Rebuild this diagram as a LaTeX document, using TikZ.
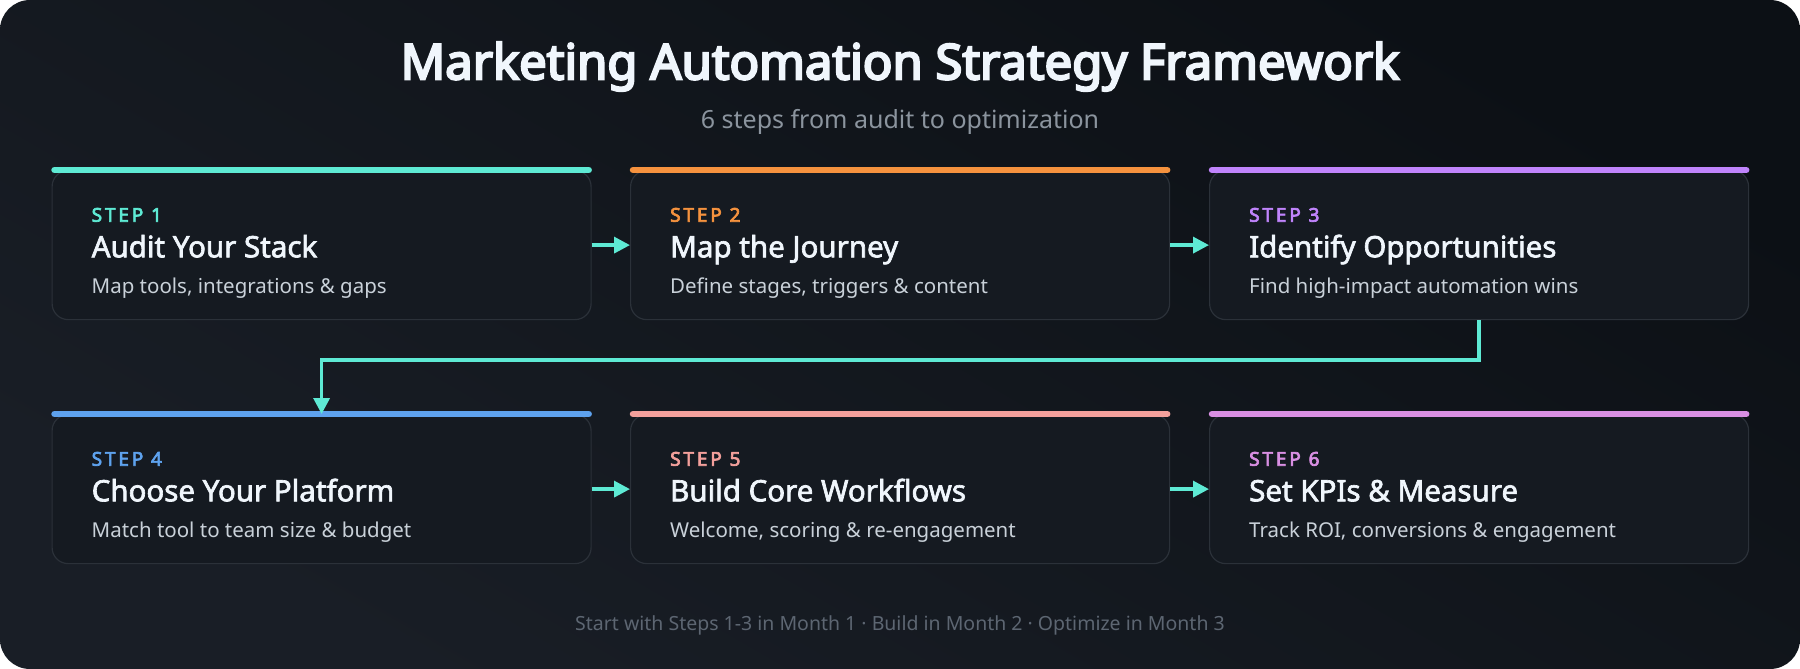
\documentclass[tikz,border=0pt]{standalone}
\usepackage{fontspec}
\setmainfont{Noto Sans}[AutoFakeBold=4.5]
\newfontfamily\semib{Noto Sans}[FakeBold=2.2]
\newfontfamily\labf{Noto Sans}[LetterSpace=15, FakeBold=3.6]
\usetikzlibrary{arrows.meta}
\definecolor{bgA}{HTML}{0C1015}
\definecolor{bgB}{HTML}{191E26}
\definecolor{cardbg}{HTML}{151A21}
\definecolor{cardline}{HTML}{2B3139}
\definecolor{titlec}{HTML}{F0F6FC}
\definecolor{subc}{HTML}{8B949E}
\definecolor{descc}{HTML}{C9D1D9}
\definecolor{footc}{HTML}{5D6672}
\definecolor{cteal}{HTML}{5EEAD4}
\definecolor{corange}{HTML}{F5923E}
\definecolor{cpurple}{HTML}{C084FC}
\definecolor{cblue}{HTML}{5EA2EE}
\definecolor{csalmon}{HTML}{F4A09C}
\definecolor{corchid}{HTML}{D98FE3}
\newcommand\mkcard[7]{%
  \node[card] (#1) at (#2,#3) {};
  \draw[topbar, draw=#4] (#1.north west) -- (#1.north east);
  \node[lab, text=#4] (#1l) at ({#2+40},{#3+51.7}) {STEP #5};
  \node[ctitle] (#1t) at ({#2+40},{#3+87.3}) {#6};
  \node[cdesc] (#1d) at ({#2+40},{#3+123.3}) {#7};
}
\begin{document}
\begin{tikzpicture}[x=1pt,y=-1pt,
  card/.style={draw=cardline, fill=cardbg, line width=1.2pt, rounded corners=16pt,
    minimum width=539pt, minimum height=149pt, anchor=north west, inner sep=0pt},
  topbar/.style={line width=6.5pt, line cap=round, shorten <=3pt, shorten >=3pt},
  lab/.style={anchor=base west, inner sep=0pt, font=\labf\fontsize{19pt}{22pt}\selectfont},
  ctitle/.style={anchor=base west, inner sep=0pt, text=titlec, font=\semib\fontsize{29.5pt}{34pt}\selectfont},
  cdesc/.style={anchor=base west, inner sep=0pt, text=descc, font=\fontsize{20.5pt}{24pt}\selectfont},
  flow/.style={draw=cteal, line width=3.5pt, -{Triangle[length=16pt,width=16pt]}},
]
\useasboundingbox (0,0) rectangle (1800,669);
\shade[rounded corners=30pt, left color=bgA, right color=bgB, shading angle=-30] (0,0) rectangle (1800,669);
\node[anchor=base, inner sep=0pt, text=titlec, font=\bfseries\fontsize{49pt}{56pt}\selectfont] (title) at (900,79.3) {Marketing Automation Strategy Framework};
\node[anchor=base, inner sep=0pt, text=subc, font=\fontsize{25pt}{30pt}\selectfont] (subtitle) at (900,128.3) {6 steps from audit to optimization};
\mkcard{c1}{51.5}{170}{cteal}{1}{Audit Your Stack}{Map tools, integrations \& gaps}
\mkcard{c2}{630}{170}{corange}{2}{Map the Journey}{Define stages, triggers \& content}
\mkcard{c3}{1209}{170}{cpurple}{3}{Identify Opportunities}{Find high-impact automation wins}
\mkcard{c4}{51.5}{414}{cblue}{4}{Choose Your Platform}{Match tool to team size \& budget}
\mkcard{c5}{630}{414}{csalmon}{5}{Build Core Workflows}{Welcome, scoring \& re-engagement}
\mkcard{c6}{1209}{414}{corchid}{6}{Set KPIs \& Measure}{Track ROI, conversions \& engagement}
\draw[flow] (c1.east) -- (c2.west);
\draw[flow] (c2.east) -- (c3.west);
\draw[flow] (c4.east) -- (c5.west);
\draw[flow] (c5.east) -- (c6.west);
\draw[flow] (c3.south) -- ++(0,40) -| (c4.north);
\node[anchor=base, inner sep=0pt, text=footc, font=\fontsize{19.5pt}{23pt}\selectfont] (footer) at (900,630.7) {Start with Steps 1-3 in Month 1 · Build in Month 2 · Optimize in Month 3};
\end{tikzpicture}
\end{document}
